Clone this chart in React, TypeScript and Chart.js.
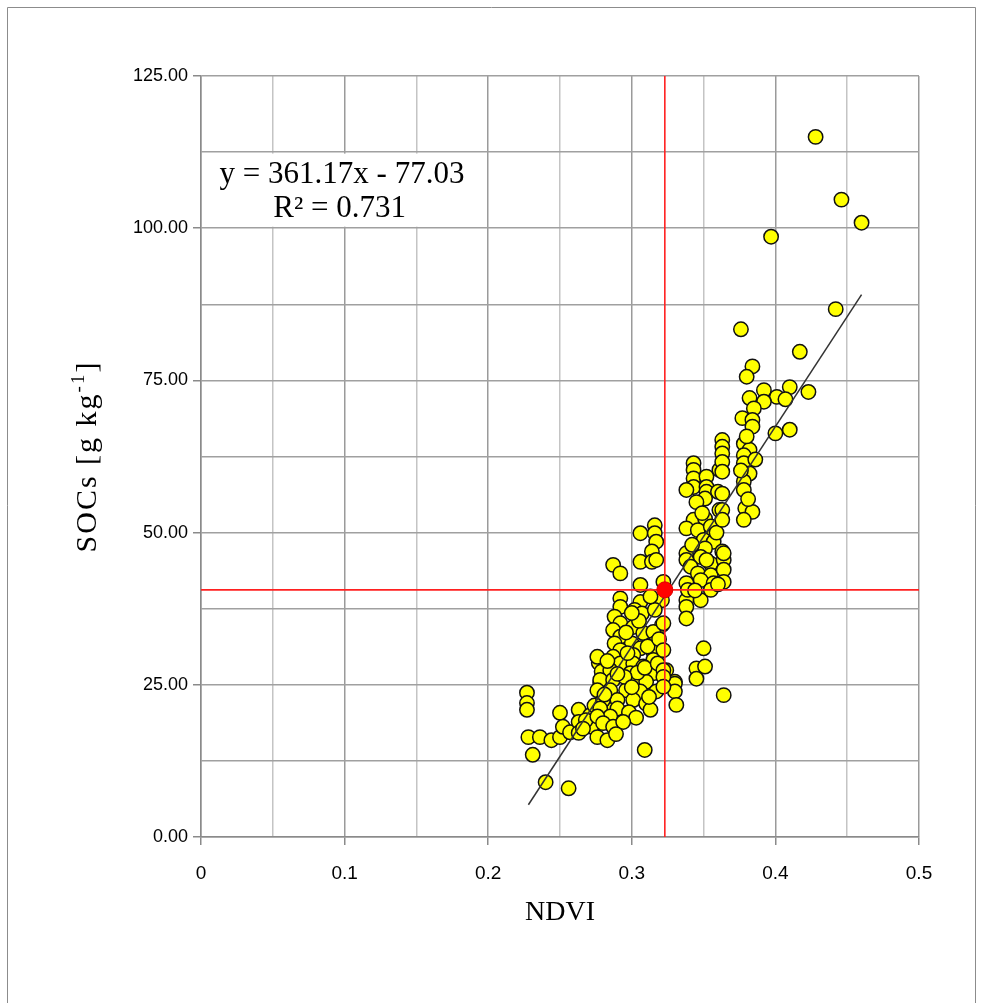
import React, { useEffect, useRef } from 'react';
import { Chart, registerables } from 'chart.js';
Chart.register(...registerables);

// Left / lower cluster
const ndviLow = [0.227, 0.227, 0.227, 0.228, 0.236, 0.231, 0.244, 0.25, 0.25, 0.252, 0.257, 0.263, 0.263, 0.263, 0.24, 0.256, 0.271, 0.272, 0.276, 0.278, 0.28, 0.285, 0.287, 0.277, 0.283, 0.268, 0.274, 0.266];
const socLow = [23.7, 22.0, 20.9, 16.4, 16.4, 13.5, 15.9, 16.4, 20.4, 18.1, 17.2, 20.9, 18.9, 17.1, 9.0, 8.0, 20.0, 18.1, 16.4, 25.3, 22.5, 20.9, 18.7, 28.6, 15.9, 19.2, 21.6, 17.8];

// Central column (0.28 - 0.33)
const ndviMid = [0.316, 0.306, 0.316, 0.317, 0.314, 0.306, 0.314, 0.317, 0.287, 0.292, 0.306, 0.322, 0.321, 0.292, 0.306, 0.292, 0.302, 0.307, 0.316, 0.288, 0.292, 0.321, 0.287, 0.301, 0.308, 0.315, 0.292, 0.288, 0.3, 0.316, 0.306, 0.292, 0.287, 0.301, 0.315, 0.276, 0.315, 0.292, 0.301, 0.308, 0.324, 0.279, 0.285, 0.299, 0.315, 0.278, 0.287, 0.303, 0.31, 0.33, 0.276, 0.285, 0.296, 0.306, 0.317, 0.28, 0.29, 0.301, 0.31, 0.278, 0.29, 0.313, 0.285, 0.276, 0.28, 0.287, 0.309,
  0.297, 0.304, 0.311, 0.296, 0.305, 0.312, 0.298, 0.303, 0.309, 0.318, 0.295, 0.3, 0.313, 0.29, 0.283, 0.281, 0.294, 0.289, 0.3, 0.319];
const socMid = [51.2, 49.9, 49.9, 48.5, 46.9, 45.2, 45.2, 45.5, 44.7, 43.3, 41.4, 41.9, 38.9, 39.2, 38.6, 37.8, 37.3, 36.7, 37.3, 36.2, 35.1, 34.8, 34.0, 34.5, 33.5, 33.7, 32.9, 31.8, 31.8, 31.8, 31.0, 30.7, 29.6, 29.9, 30.4, 29.6, 29.1, 28.5, 28.5, 28.0, 27.4, 27.2, 27.4, 26.9, 26.9, 25.8, 25.8, 25.5, 25.5, 25.5, 24.1, 24.1, 24.1, 23.9, 23.9, 22.5, 22.5, 22.5, 21.9, 21.1, 21.1, 20.9, 19.8, 19.8, 18.7, 18.1, 14.3,
  30.2, 27.0, 31.3, 33.6, 35.5, 23.0, 20.5, 19.6, 27.8, 28.5, 26.3, 36.8, 39.5, 26.8, 28.9, 23.4, 18.9, 16.9, 24.6, 32.5];

// Right of the mean, lower part
const ndviRightLow = [0.338, 0.348, 0.338, 0.338, 0.322, 0.35, 0.345, 0.351, 0.345, 0.364, 0.33, 0.33, 0.331, 0.322, 0.322, 0.322, 0.322];
const socRightLow = [38.9, 38.9, 37.8, 35.9, 35.1, 31.0, 27.7, 28.0, 26.0, 23.3, 25.2, 23.9, 21.7, 27.4, 26.3, 24.7, 30.7];

// Columns 0.338 - 0.364, upper part
const ndviRightMid = [0.343, 0.343, 0.343, 0.352, 0.343, 0.338, 0.352, 0.352, 0.361, 0.36, 0.351, 0.361, 0.343, 0.351, 0.338, 0.346, 0.355, 0.357, 0.35, 0.357, 0.351, 0.338, 0.363, 0.338, 0.348, 0.355, 0.364, 0.341, 0.346, 0.355, 0.364, 0.338, 0.348, 0.357, 0.364, 0.339, 0.355,
  0.345, 0.349, 0.359, 0.342, 0.352, 0.36, 0.344];
const socRightMid = [61.4, 60.3, 58.9, 59.2, 57.5, 57.0, 57.5, 56.7, 60.3, 56.7, 55.6, 53.7, 52.1, 52.3, 50.7, 50.4, 51.0, 49.6, 48.8, 48.5, 47.4, 46.6, 46.9, 45.5, 46.0, 44.9, 45.5, 44.4, 43.3, 43.0, 43.9, 41.7, 42.2, 41.7, 41.9, 40.6, 40.6,
  55.0, 53.2, 50.0, 48.0, 45.5, 41.5, 40.5];

// High NDVI group
const ndviHigh = [0.376, 0.417, 0.384, 0.38, 0.41, 0.423, 0.392, 0.401, 0.407, 0.382, 0.392, 0.385, 0.377, 0.384, 0.384, 0.4, 0.41, 0.363, 0.363, 0.378, 0.382, 0.363, 0.378, 0.363, 0.378, 0.363, 0.382, 0.378, 0.378, 0.363, 0.379, 0.384, 0.363, 0.378, 0.363, 0.364, 0.428, 0.446, 0.46, 0.397, 0.442,
  0.38, 0.376, 0.381, 0.386];
const socHigh = [83.4, 79.7, 77.3, 75.6, 73.9, 73.1, 73.4, 72.3, 71.9, 72.1, 71.5, 70.4, 68.8, 68.5, 67.4, 66.3, 66.9, 65.2, 64.1, 64.6, 63.6, 63.0, 62.7, 61.6, 61.4, 60.0, 59.7, 58.4, 57.0, 56.4, 54.0, 53.4, 53.7, 52.1, 52.1, 46.6, 115.0, 104.7, 100.9, 98.6, 86.7,
  65.8, 60.2, 55.5, 62.0];

// Mean point (crosshair) and trend line end points
const meanNdvi = 0.323;
const meanSoc = 40.6;
const trendNdvi = [0.228, 0.46];
const trendSoc = [5.3, 89.1];

const equationLines = ['y = 361.17x - 77.03', 'R\u00B2 = 0.731'];
const xTitle = 'NDVI';
const yTitleMain = 'SOCs [g kg';
const yTitleSup = '-1';
const yTitleEnd = ']';

const allNdvi = [...ndviLow, ...ndviMid, ...ndviRightLow, ...ndviRightMid, ...ndviHigh];
const allSoc = [...socLow, ...socMid, ...socRightLow, ...socRightMid, ...socHigh];

const decorPlugin = {
  id: 'decor',
  beforeDraw(chart: any) {
    const { ctx, width, height } = chart;
    ctx.save();
    ctx.fillStyle = '#ffffff';
    ctx.fillRect(0, 0, width, height);
    ctx.strokeStyle = '#8c8c8c';
    ctx.lineWidth = 1;
    ctx.beginPath();
    ctx.moveTo(7.5, height + 5);
    ctx.lineTo(7.5, 7.5);
    ctx.lineTo(975.5, 7.5);
    ctx.lineTo(975.5, height + 5);
    ctx.stroke();
    ctx.restore();
  },
  beforeDatasetsDraw(chart: any) {
    const { ctx } = chart;
    const xs = chart.scales.x;
    const ys = chart.scales.y;
    const l = xs.getPixelForValue(0) + 1.5;
    const r = xs.getPixelForValue(0.2) - 1.5;
    const t = ys.getPixelForValue(112.5) + 1.5;
    const b = ys.getPixelForValue(100) - 1.5;
    ctx.save();
    ctx.fillStyle = '#ffffff';
    ctx.fillRect(l, t, r - l, b - t);
    ctx.fillStyle = '#000000';
    ctx.font = '31px "Liberation Serif", serif';
    ctx.textAlign = 'center';
    ctx.textBaseline = 'alphabetic';
    ctx.fillText(equationLines[0], xs.getPixelForValue(0.0982), ys.getPixelForValue(107.4));
    ctx.fillText(equationLines[1], xs.getPixelForValue(0.0965), ys.getPixelForValue(101.8));
    ctx.restore();
  },
  afterDraw(chart: any) {
    const { ctx, chartArea } = chart;
    const cy = (chartArea.top + chartArea.bottom) / 2;
    ctx.save();
    ctx.translate(88, cy);
    ctx.rotate(-Math.PI / 2);
    ctx.fillStyle = '#000000';
    ctx.textBaseline = 'middle';
    ctx.textAlign = 'left';
    try { (ctx as any).letterSpacing = '2px'; } catch (e) { /* ignore */ }
    const mainFont = '30px "Liberation Serif", serif';
    const supFont = '19px "Liberation Serif", serif';
    ctx.font = mainFont;
    const w1 = ctx.measureText(yTitleMain).width;
    const w3 = ctx.measureText(yTitleEnd).width;
    ctx.font = supFont;
    const w2 = ctx.measureText(yTitleSup).width;
    const total = w1 + w2 + w3;
    let x = -total / 2;
    ctx.font = mainFont;
    ctx.fillText(yTitleMain, x, 0);
    x += w1;
    ctx.font = supFont;
    ctx.fillText(yTitleSup, x, -9);
    x += w2;
    ctx.font = mainFont;
    ctx.fillText(yTitleEnd, x, 0);
    ctx.restore();
  },
};

export default function App() {
  const ref = useRef<HTMLCanvasElement | null>(null);
  useEffect(() => {
    if (!ref.current) return;
    const scatterData = allNdvi.map((v, i) => ({ x: v, y: allSoc[i] }));
    const trendData = trendNdvi.map((v, i) => ({ x: v, y: trendSoc[i] }));
    const isMajorX = (v: number) => Math.abs(Math.round(v * 100) % 10) === 0;
    const isMajorY = (v: number) => Math.abs(Math.round(v * 10) % 250) === 0;
    const chart = new Chart(ref.current, {
      type: 'scatter',
      data: {
        datasets: [
          {
            label: 'mean',
            data: [{ x: meanNdvi, y: meanSoc }],
            backgroundColor: '#ff0000',
            borderColor: '#e00000',
            borderWidth: 1,
            pointRadius: 8,
            order: 0,
          } as any,
          {
            type: 'line',
            label: 'vline',
            data: [{ x: meanNdvi, y: 0 }, { x: meanNdvi, y: 125 }],
            borderColor: '#ff2020',
            borderWidth: 1.6,
            pointRadius: 0,
            order: 1,
          },
          {
            type: 'line',
            label: 'hline',
            data: [{ x: 0, y: meanSoc }, { x: 0.5, y: meanSoc }],
            borderColor: '#ff2020',
            borderWidth: 1.6,
            pointRadius: 0,
            order: 1,
          },
          {
            type: 'line',
            label: 'trend',
            data: trendData,
            borderColor: '#333333',
            borderWidth: 1.5,
            pointRadius: 0,
            order: 2,
          },
          {
            label: 'SOCs',
            data: scatterData,
            backgroundColor: '#ffff00',
            borderColor: '#111111',
            borderWidth: 1.5,
            pointRadius: 7.2,
            order: 3,
          } as any,
        ],
      },
      options: {
        responsive: false,
        animation: false,
        events: [],
        layout: { padding: { top: 76, right: 64, left: 0, bottom: 0 } },
        plugins: { legend: { display: false }, tooltip: { enabled: false }, title: { display: false } },
        scales: {
          x: {
            type: 'linear',
            min: 0,
            max: 0.5,
            afterFit: (s: any) => { s.height = 166; },
            ticks: {
              stepSize: 0.05,
              autoSkip: false,
              maxRotation: 0,
              padding: 17,
              color: '#000000',
              font: { family: '"Liberation Sans", sans-serif', size: 19 },
              callback: (v: any) => (isMajorX(Number(v)) ? String(Math.round(Number(v) * 10) / 10) : ''),
            },
            grid: {
              color: (c: any) => (isMajorX(c.tick.value) ? '#9a9a9a' : '#c4c4c4'),
              lineWidth: 1.5,
              tickLength: 8,
              tickColor: (c: any) => (isMajorX(c.tick.value) ? '#8a8a8a' : 'rgba(0,0,0,0)'),
            },
            border: { display: true, color: '#8a8a8a', width: 1.5 },
          },
          y: {
            type: 'linear',
            min: 0,
            max: 125,
            afterFit: (s: any) => { s.width = 201; },
            ticks: {
              stepSize: 12.5,
              autoSkip: false,
              padding: 5,
              color: '#000000',
              font: { family: '"Liberation Sans", sans-serif', size: 18 },
              callback: (v: any) => (isMajorY(Number(v)) ? Number(v).toFixed(2) : ''),
            },
            grid: {
              color: '#a0a0a0',
              lineWidth: 1.5,
              tickLength: 8,
              tickColor: (c: any) => (isMajorY(c.tick.value) ? '#8a8a8a' : 'rgba(0,0,0,0)'),
            },
            border: { display: true, color: '#8a8a8a', width: 1.5 },
          },
        },
      },
      plugins: [decorPlugin],
    } as any);
    return () => chart.destroy();
  }, []);
  return (
    <div style={{ position: 'absolute', left: 0, top: 0, width: 983, height: 1003, overflow: 'hidden', background: '#fff' }}>
      <canvas ref={ref} width={983} height={1003} style={{ width: 983, height: 1003, display: 'block' }} />
      <div style={{ position: 'absolute', left: 0, top: 895, width: 983, textAlign: 'center', pointerEvents: 'none' }}>
        <span style={{ position: 'absolute', left: 560, transform: 'translateX(-50%)', fontFamily: '"Liberation Serif", serif', fontSize: 28, color: '#000', whiteSpace: 'nowrap' }}>{xTitle}</span>
      </div>
    </div>
  );
}
